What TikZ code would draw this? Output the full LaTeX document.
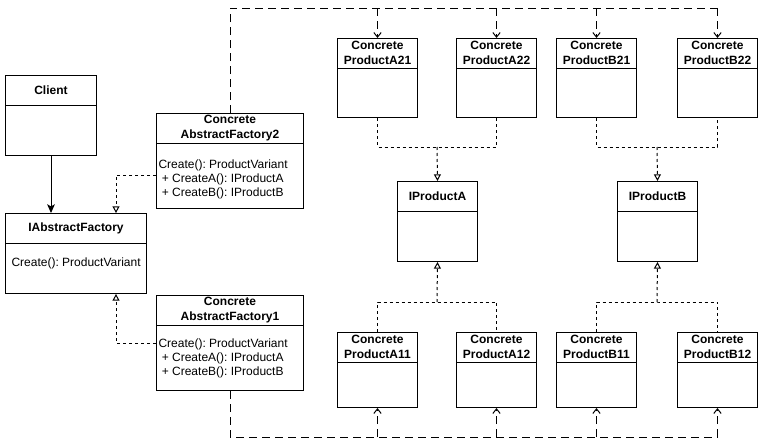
\documentclass[tikz,border=0pt]{standalone}
\usepackage{fontspec}
\setmainfont{Liberation Sans}
\usetikzlibrary{arrows.meta}
\frenchspacing

\begin{document}
\begin{tikzpicture}
[x=0.75pt, y=-0.75pt, line width=0.75pt,
umlbox/.style={rectangle, draw, inner sep=0pt, anchor=north west,
  path picture={\draw ([yshift=-22.5pt]path picture bounding box.north west) -- ([yshift=-22.5pt]path picture bounding box.north east);}},
title/.style={label={[anchor=center, yshift=-11.25pt, align=center, font=\fontsize{9}{11.75}\selectfont\bfseries]north:#1}},
opstext/.style={anchor=north west, inner sep=0pt, align=left, font=\fontsize{9}{10.5}\selectfont},
product/.style={umlbox, minimum width=60pt},
realize/.style={dash pattern=on 2.25pt off 2.25pt},
depend/.style={dash pattern=on 6pt off 3.75pt},
implarrow/.style={-{Triangle[open, length=5pt, width=5.25pt]}},
deparrow/.style={-{Straight Barb[length=3.5pt, width=5.5pt]}}]

\useasboundingbox (0,0) rectangle (758,446);

% client and factories
\node[umlbox, minimum width=68.25pt, minimum height=60pt, title={Client}] (client) at (5,75) {};
\node[umlbox, minimum width=105.75pt, minimum height=60pt, title={IAbstractFactory}] (iaf) at (5,213) {};
\node[opstext, anchor=west] (iafops) at (11,263) {Create(): ProductVariant};

\node[umlbox, minimum width=110.25pt, minimum height=71.25pt, title={Concrete\\AbstractFactory2}] (caf2) at (156,113) {};
\node[opstext] (caf2ops) at (158,159.5) {Create(): ProductVariant\\\ + CreateA(): IProductA\\\ + CreateB(): IProductB};
\node[umlbox, minimum width=110.25pt, minimum height=71.25pt, title={Concrete\\AbstractFactory1}] (caf1) at (156,295) {};
\node[opstext] (caf1ops) at (158,338.5) {Create(): ProductVariant\\\ + CreateA(): IProductA\\\ + CreateB(): IProductB};

% products of family 2
\node[product, minimum height=59.25pt, title={Concrete\\ProductA21}] (cpa21) at (337,38) {};
\node[product, minimum height=59.25pt, title={Concrete\\ProductA22}] (cpa22) at (456,38) {};
\node[product, minimum height=59.25pt, title={Concrete\\ProductB21}] (cpb21) at (556,38) {};
\node[product, minimum height=59.25pt, title={Concrete\\ProductB22}] (cpb22) at (677,38) {};

% interfaces
\node[product, minimum height=60pt, title={IProductA}] (ipa) at (397,181) {};
\node[product, minimum height=60pt, title={IProductB}] (ipb) at (617,181) {};

% products of family 1
\node[product, minimum height=56.25pt, title={Concrete\\ProductA11}] (cpa11) at (337,332) {};
\node[product, minimum height=56.25pt, title={Concrete\\ProductA12}] (cpa12) at (456,332) {};
\node[product, minimum height=56.25pt, title={Concrete\\ProductB11}] (cpb11) at (556,332) {};
\node[product, minimum height=56.25pt, title={Concrete\\ProductB12}] (cpb12) at (677,332) {};

\coordinate (facjoin2) at (116,175);
\coordinate (facjoin1) at (116,343);
\coordinate (toprail) at (0,8);
\coordinate (botrail) at (0,437);
\coordinate (ajointop) at (437,147);
\coordinate (ajoinbot) at (437,302);
\coordinate (bjointop) at (657,147);
\coordinate (bjoinbot) at (657,302);

\draw[-{Stealth[length=6.5pt, width=5.75pt, inset=1.5pt]}] (client.south) -- (client.south |- iaf.north);
\draw[realize, implarrow] (caf2.west |- facjoin2) -| (facjoin2 |- iaf.north);
\draw[realize, implarrow] (caf1.west |- facjoin1) -| (facjoin1 |- iaf.south);

\draw[depend] (caf2.north) -- (caf2.north |- toprail) -- (cpb22.north |- toprail);
\draw[depend] (caf1.south) -- (caf1.south |- botrail) -- (cpb12.south |- botrail);
\foreach \p in {cpa21,cpa22,cpb21,cpb22} {
  \draw[depend, deparrow] (\p.north |- toprail) -- (\p.north);
}
\foreach \p in {cpa11,cpa12,cpb11,cpb12} {
  \draw[depend, deparrow] (\p.south |- botrail) -- (\p.south);
}

\draw[realize] (cpa21.south) |- (ajointop) -| (cpa22.south);
\draw[realize, implarrow] (ajointop) -- (ipa.north);
\draw[realize] (cpb21.south) |- (bjointop) -| (cpb22.south);
\draw[realize, implarrow] (bjointop) -- (ipb.north);
\draw[realize] (cpa11.north) |- (ajoinbot) -| (cpa12.north);
\draw[realize, implarrow] (ajoinbot) -- (ipa.south);
\draw[realize] (cpb11.north) |- (bjoinbot) -| (cpb12.north);
\draw[realize, implarrow] (bjoinbot) -- (ipb.south);
\end{tikzpicture}
\end{document}
